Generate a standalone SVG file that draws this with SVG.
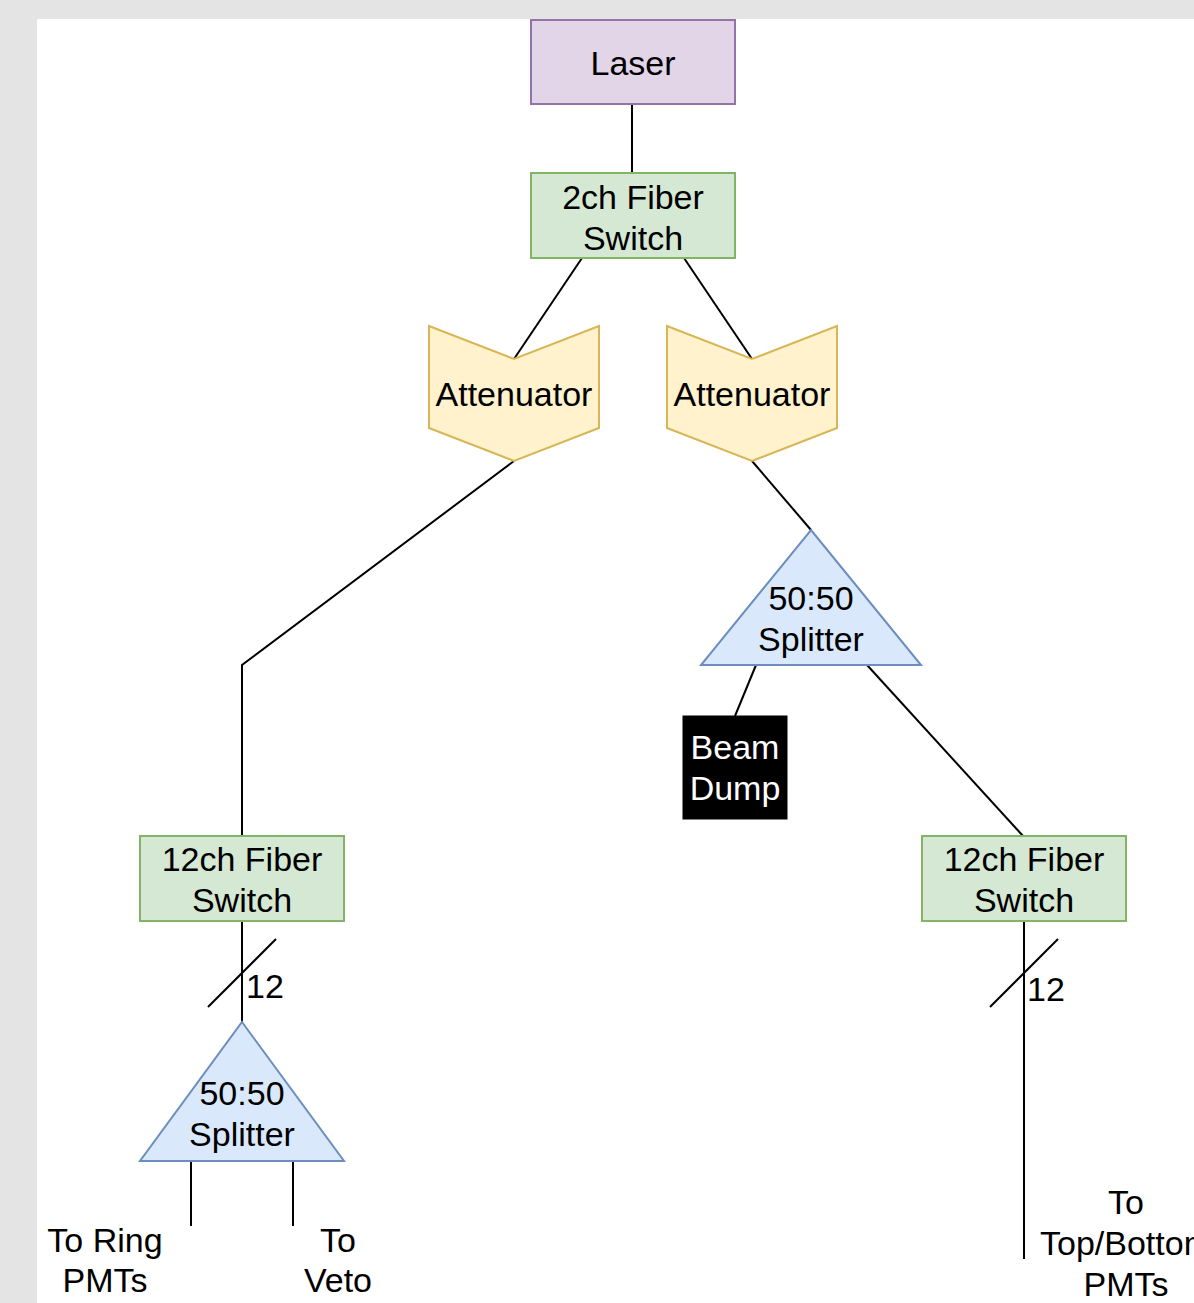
<svg xmlns="http://www.w3.org/2000/svg" width="1194" height="1303" viewBox="0 0 1194 1303">
<style>
text{font-family:"Liberation Sans",Arial,sans-serif;font-size:34px;fill:#000;text-anchor:middle}
.ln{stroke:#000;stroke-width:2;fill:none}
.grn{fill:#d5e8d4;stroke:#82b366;stroke-width:2}
.blu{fill:#dae8fc;stroke:#6c8ebf;stroke-width:2}
.yel{fill:#fff2cc;stroke:#d6b656;stroke-width:2}
</style>
<rect x="0" y="0" width="1194" height="1303" fill="#e4e4e4"/>
<rect x="37" y="19" width="1157" height="1284" fill="#ffffff"/>
<g id="connectors">
<line class="ln" x1="632" y1="104" x2="632" y2="173"/>
<line class="ln" x1="582" y1="258" x2="514" y2="359"/>
<line class="ln" x1="684" y1="258" x2="752" y2="359"/>
<polyline class="ln" points="514,461 242,665 242,836"/>
<line class="ln" x1="752" y1="461" x2="811" y2="530"/>
<line class="ln" x1="756" y1="665" x2="735" y2="716"/>
<line class="ln" x1="867" y1="665" x2="1023" y2="836"/>
<line class="ln" x1="242" y1="921" x2="242" y2="1022"/>
<line class="ln" x1="208" y1="1007" x2="276" y2="939"/>
<text x="246" y="998" style="text-anchor:start">12</text>
<line class="ln" x1="1024" y1="921" x2="1024" y2="1259"/>
<line class="ln" x1="990" y1="1007" x2="1058" y2="939"/>
<text x="1027" y="1001" style="text-anchor:start">12</text>
<line class="ln" x1="191" y1="1162" x2="191" y2="1226"/>
<line class="ln" x1="293" y1="1162" x2="293" y2="1226"/>
</g>
<g id="laser">
<rect x="531" y="20" width="204" height="84" fill="#e1d5e7" stroke="#9673a6" stroke-width="2"/>
<text x="633" y="75">Laser</text>
</g>
<g id="switch2">
<rect class="grn" x="531" y="173" width="204" height="85"/>
<text x="633" y="209">2ch Fiber</text>
<text x="633" y="250">Switch</text>
</g>
<g id="att1">
<polygon class="yel" points="429,326 514,359 599,326 599,428 514,461 429,428"/>
<text x="514" y="406">Attenuator</text>
</g>
<g id="att2">
<polygon class="yel" points="667,326 752,359 837,326 837,428 752,461 667,428"/>
<text x="752" y="406">Attenuator</text>
</g>
<g id="splitter1">
<polygon class="blu" points="811,530 921,665 701,665"/>
<text x="811" y="610">50:50</text>
<text x="811" y="651">Splitter</text>
</g>
<g id="beamdump">
<rect x="683" y="716" width="104" height="103" fill="#000" stroke="#000" stroke-width="1"/>
<text x="735" y="759" style="fill:#fff">Beam</text>
<text x="735" y="800" style="fill:#fff">Dump</text>
</g>
<g id="switch12a">
<rect class="grn" x="140" y="836" width="204" height="85"/>
<text x="242" y="871">12ch Fiber</text>
<text x="242" y="912">Switch</text>
</g>
<g id="switch12b">
<rect class="grn" x="922" y="836" width="204" height="85"/>
<text x="1024" y="871">12ch Fiber</text>
<text x="1024" y="912">Switch</text>
</g>
<g id="splitter2">
<polygon class="blu" points="242,1022 344,1161 140,1161"/>
<text x="242" y="1105">50:50</text>
<text x="242" y="1146">Splitter</text>
</g>
<g id="labelRing">
<text x="105" y="1252">To Ring</text>
<text x="105" y="1292">PMTs</text>
</g>
<g id="labelVeto">
<text x="338" y="1252">To</text>
<text x="338" y="1292">Veto</text>
</g>
<g id="labelTop">
<text x="1126" y="1214">To</text>
<text x="1126" y="1255">Top/Bottom</text>
<text x="1126" y="1296">PMTs</text>
</g>
</svg>
